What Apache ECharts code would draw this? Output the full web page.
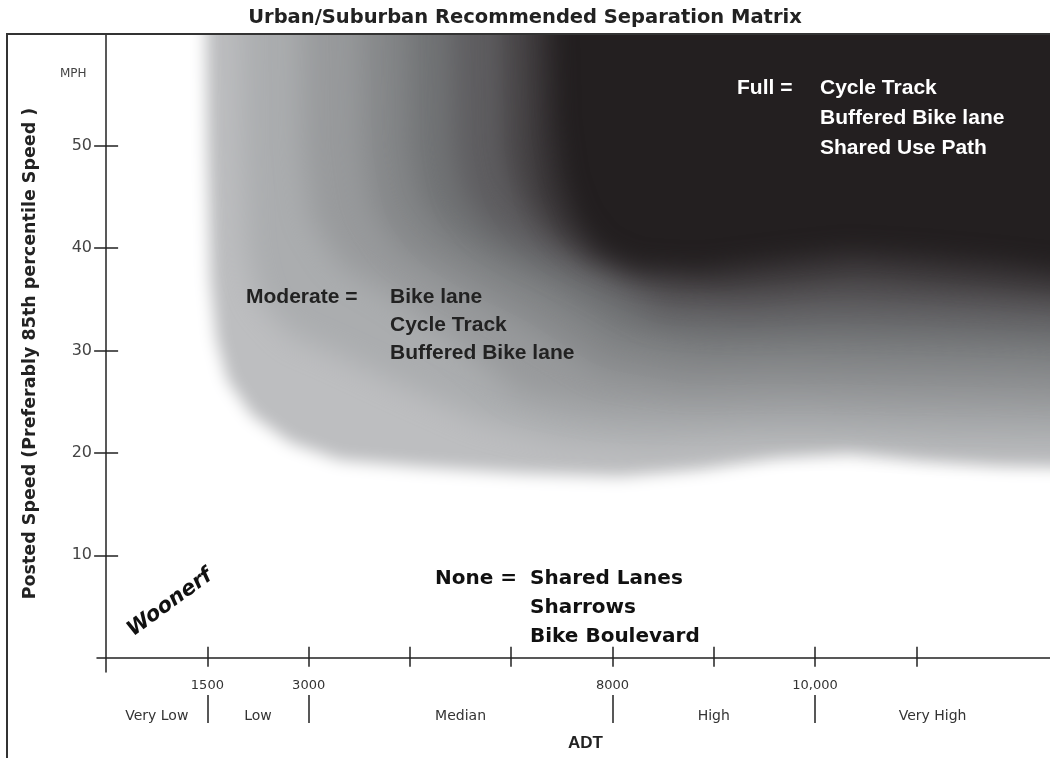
<!DOCTYPE html>
<html>
<head>
<meta charset="utf-8">
<title>Urban/Suburban Recommended Separation Matrix</title>
<script src="https://cdn.jsdelivr.net/npm/echarts@6/dist/echarts.min.js"></script>
<style>
  html, body { margin: 0; padding: 0; background: #fff; }
  #chart { width: 1050px; height: 758px; }
</style>
</head>
<body>
<div id="chart"></div>
<script>
// ADT axis is drawn in even steps, only some steps carry a count
const adtTicks = [1, 2, 3, 4, 5, 6, 7, 8];
const adtTickLabels = { 1: '1500', 2: '3000', 5: '8000', 7: '10,000' };
const adtBandEdges = [0, 1, 2, 5, 7, 9.32];
const adtBands = ['Very Low', 'Low', 'Median', 'High', 'Very High'];
const speedTicks = [10, 20, 30, 40, 50];

// separation zones as contours [ADT step, MPH], lightest (outer edge of moderate) to darkest (full)
const zoneContours = [
  [[0.98, 67], [1.00, 49.6], [1.03, 36.9], [1.09, 31.1], [1.20, 27.1], [1.44, 23.7], [1.82, 21.0], [2.31, 19.3], [3.10, 18.65], [4.09, 18.0], [5.07, 17.7], [5.86, 18.4], [6.65, 19.6], [7.34, 20.1], [8.04, 19.3], [8.83, 18.75], [9.9, 18.55], [9.9, 67]],
  [[1.32, 67], [1.34, 49.6], [1.38, 39.8], [1.50, 35.0], [1.82, 31.5], [2.21, 29.9], [2.90, 26.7], [3.69, 23.2], [4.48, 21.3], [5.37, 20.7], [6.36, 21.3], [7.34, 21.3], [8.33, 20.8], [9.9, 20.7], [9.9, 67]],
  [[1.92, 67], [1.94, 49.6], [2.03, 42.8], [2.31, 38.4], [2.90, 35.0], [3.49, 30.6], [4.09, 25.7], [4.88, 24.2], [5.86, 23.9], [6.85, 24.2], [7.84, 23.9], [9.9, 23.6], [9.9, 67]],
  [[2.51, 67], [2.54, 49.6], [2.63, 43.75], [2.90, 39.8], [3.40, 36.9], [4.09, 33.0], [4.88, 28.1], [5.67, 26.9], [6.65, 27.1], [7.64, 26.9], [8.83, 26.7], [9.9, 26.4], [9.9, 67]],
  [[2.95, 67], [2.98, 49.6], [3.08, 44.7], [3.35, 41.3], [3.79, 38.7], [4.38, 35.9], [5.07, 31.5], [5.86, 30.1], [6.85, 30.3], [7.84, 30.1], [8.83, 29.9], [9.9, 29.5], [9.9, 67]],
  [[3.40, 67], [3.43, 49.6], [3.52, 45.2], [3.77, 42.0], [4.19, 39.6], [4.78, 36.9], [5.47, 33.2], [6.26, 32.7], [7.15, 33.0], [8.04, 32.8], [8.83, 32.5], [9.9, 32.0], [9.9, 67]],
  [[3.89, 67], [3.92, 49.6], [4.01, 45.7], [4.21, 42.6], [4.53, 40.0], [4.98, 37.9], [5.57, 35.4], [6.36, 35.2], [7.25, 35.7], [8.04, 35.4], [8.83, 35.0], [9.9, 34.5], [9.9, 67]],
  [[4.19, 67], [4.22, 49.6], [4.30, 45.2], [4.48, 42.0], [4.78, 39.4], [5.27, 37.4], [6.06, 36.7], [6.85, 37.4], [7.44, 37.9], [8.13, 37.3], [8.83, 36.7], [9.9, 35.7], [9.9, 67]],
  [[4.40, 67], [4.44, 52.5], [4.52, 46.7], [4.66, 42.8], [4.88, 40.0], [5.22, 38.5], [5.86, 38.1], [6.65, 39.1], [7.34, 39.8], [8.04, 39.4], [8.83, 38.7], [9.9, 37.4], [9.9, 67]]
];

// look
const zoneShades = ['#bdbec0', '#abadaf', '#989a9c', '#86888a', '#727476', '#5f5e61', '#4a4749', '#363234', '#231f20'];
const zoneBlur = [16, 30, 30, 30, 30, 28, 26, 24, 22];
const SANS = '"Liberation Sans", Arial, sans-serif';
const WIDE = '"DejaVu Sans", Verdana, sans-serif';
const AXIS_COLOR = '#222';
const SHIFT = 3000; // polygon is drawn off to the side, only its blurred shadow lands in the plot

const bandMids = adtBands.map((b, i) => (adtBandEdges[i] + adtBandEdges[i + 1]) / 2);
const bandCuts = adtBandEdges.slice(1, -1);

const zoneSeries = zoneContours.map((pts, i) => ({
  type: 'custom',
  coordinateSystem: 'cartesian2d',
  xAxisIndex: 0,
  yAxisIndex: 0,
  clip: true,
  silent: true,
  data: pts,
  renderItem: function (params, api) {
    if (params.dataIndex !== 0) return null;
    const points = pts.map(p => {
      const c = api.coord(p);
      return [c[0] + SHIFT, c[1]];
    });
    return {
      type: 'polygon',
      shape: { points: points },
      style: {
        fill: '#000',
        shadowColor: zoneShades[i],
        shadowBlur: zoneBlur[i],
        shadowOffsetX: -SHIFT,
        shadowOffsetY: 0
      }
    };
  }
}));

const lineStyle = { color: AXIS_COLOR, width: 1.5 };

const option = {
  animation: false,
  backgroundColor: '#fff',
  title: {
    text: 'Urban/Suburban Recommended Separation Matrix',
    left: 'center',
    top: 3,
    textStyle: { fontFamily: WIDE, fontWeight: 'bold', fontSize: 19.5, color: '#222' }
  },
  grid: { left: 97, right: 0, top: 35, bottom: 86, containLabel: false, outerBoundsMode: 'none' },
  xAxis: [
    {
      type: 'value', min: -0.09, max: 9.32, position: 'bottom',
      axisLine: { onZero: true, lineStyle: lineStyle },
      axisTick: { show: true, customValues: adtTicks, length: 9, lineStyle: lineStyle },
      axisLabel: {
        customValues: Object.keys(adtTickLabels).map(Number),
        formatter: v => adtTickLabels[v] || '',
        margin: 7, fontFamily: WIDE, fontSize: 13, color: '#333'
      },
      splitLine: { show: false }
    },
    {
      type: 'value', min: -0.09, max: 9.32, position: 'bottom',
      axisLine: { show: false, onZero: true },
      axisTick: { show: true, inside: true, customValues: adtTicks, length: 11, lineStyle: lineStyle },
      axisLabel: { show: false },
      splitLine: { show: false }
    },
    {
      type: 'value', min: -0.09, max: 9.32, position: 'bottom', offset: 23,
      axisLine: { show: false, onZero: false },
      axisTick: { show: true, customValues: bandCuts, length: 28, lineStyle: lineStyle },
      axisLabel: {
        customValues: bandMids,
        formatter: v => adtBands[bandMids.indexOf(v)] || '',
        margin: 14, fontFamily: WIDE, fontSize: 14, color: '#333'
      },
      splitLine: { show: false },
      name: 'ADT', nameLocation: 'middle', nameGap: 40,
      nameTextStyle: { fontFamily: SANS, fontWeight: 'bold', fontSize: 17, color: '#222', padding: [0, 0, 0, 24] }
    }
  ],
  yAxis: [
    {
      type: 'value', min: -1.4, max: 60.8, position: 'left',
      axisLine: { onZero: true, lineStyle: lineStyle },
      axisTick: { show: true, customValues: speedTicks, length: 12, lineStyle: lineStyle },
      axisLabel: { customValues: speedTicks, margin: 5, fontFamily: WIDE, fontSize: 16, color: '#444' },
      splitLine: { show: false },
      name: 'Posted Speed (Preferably 85th percentile Speed )',
      nameLocation: 'middle', nameGap: 58,
      nameTextStyle: { fontFamily: WIDE, fontWeight: 'bold', fontSize: 17.5, color: '#222' }
    },
    {
      type: 'value', min: -1.4, max: 60.8, position: 'left',
      axisLine: { show: false, onZero: true },
      axisTick: { show: true, inside: true, customValues: speedTicks, length: 12, lineStyle: lineStyle },
      axisLabel: { show: false },
      splitLine: { show: false }
    }
  ],
  graphic: [
    { type: 'rect', z: 100, silent: true, shape: { x: 7, y: 34, width: 1100, height: 800 }, style: { fill: 'none', stroke: '#333', lineWidth: 2 } },
    { type: 'text', z: 100, x: 60, y: 68, style: { text: 'MPH', font: '12px ' + WIDE, fill: '#444' } },
    { type: 'text', z: 100, x: 737, y: 73, style: { text: 'Full =', font: 'bold 21px ' + SANS, fill: '#fff', lineHeight: 30 } },
    { type: 'text', z: 100, x: 820, y: 73, style: { text: 'Cycle Track\nBuffered Bike lane\nShared Use Path', font: 'bold 21px ' + SANS, fill: '#fff', lineHeight: 30 } },
    { type: 'text', z: 100, x: 246, y: 283, style: { text: 'Moderate =', font: 'bold 21px ' + SANS, fill: '#222', lineHeight: 28 } },
    { type: 'text', z: 100, x: 390, y: 283, style: { text: 'Bike lane\nCycle Track\nBuffered Bike lane', font: 'bold 21px ' + SANS, fill: '#222', lineHeight: 28 } },
    { type: 'text', z: 100, x: 435, y: 564, style: { text: 'None =', font: 'bold 20px ' + WIDE, fill: '#111', lineHeight: 29 } },
    { type: 'text', z: 100, x: 530, y: 564, style: { text: 'Shared Lanes\nSharrows\nBike Boulevard', font: 'bold 20px ' + WIDE, fill: '#111', lineHeight: 29 } },
    { type: 'text', z: 100, x: 170, y: 603, rotation: 0.63, style: { text: 'Woonerf', font: 'italic bold 21px ' + WIDE, fill: '#111', textAlign: 'center', textVerticalAlign: 'middle' } }
  ],
  series: zoneSeries
};

const chart = echarts.init(document.getElementById('chart'));
chart.setOption(option);
window.addEventListener('resize', () => {
  chart.resize();
});
</script>
</body>
</html>
